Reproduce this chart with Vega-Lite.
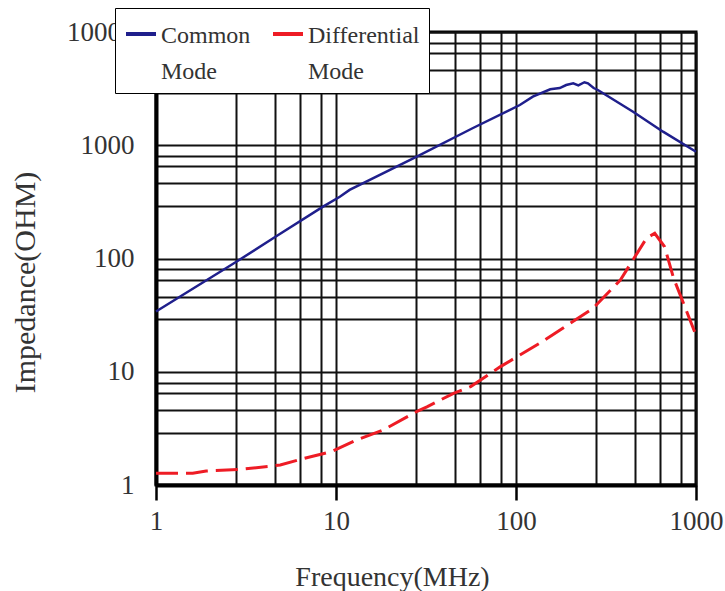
{
  "$schema": "https://vega.github.io/schema/vega-lite/v6.json",
  "width": 540,
  "height": 453,
  "autosize": "none",
  "padding": {"left": 156, "top": 32, "right": 29, "bottom": 106},
  "background": "white",
  "config": {
    "view": {"stroke": "black", "strokeWidth": 3},
    "font": "Liberation Serif"
  },
  "data": {
    "values": [
      {"f": 1, "z": 34, "series": "Common Mode"},
      {"f": 2.81, "z": 94, "series": "Common Mode"},
      {"f": 4.68, "z": 158, "series": "Common Mode"},
      {"f": 8.47, "z": 287, "series": "Common Mode"},
      {"f": 10.5, "z": 351, "series": "Common Mode"},
      {"f": 11.9, "z": 403, "series": "Common Mode"},
      {"f": 28.1, "z": 792, "series": "Common Mode"},
      {"f": 57.7, "z": 1420, "series": "Common Mode"},
      {"f": 105, "z": 2266, "series": "Common Mode"},
      {"f": 124, "z": 2683, "series": "Common Mode"},
      {"f": 155, "z": 3120, "series": "Common Mode"},
      {"f": 175, "z": 3200, "series": "Common Mode"},
      {"f": 190, "z": 3400, "series": "Common Mode"},
      {"f": 208, "z": 3520, "series": "Common Mode"},
      {"f": 222, "z": 3380, "series": "Common Mode"},
      {"f": 240, "z": 3600, "series": "Common Mode"},
      {"f": 251, "z": 3520, "series": "Common Mode"},
      {"f": 270, "z": 3200, "series": "Common Mode"},
      {"f": 285, "z": 3076, "series": "Common Mode"},
      {"f": 447, "z": 1977, "series": "Common Mode"},
      {"f": 656, "z": 1318, "series": "Common Mode"},
      {"f": 1000, "z": 877, "series": "Common Mode"},
      {"f": 1, "z": 1.27, "series": "Differential Mode"},
      {"f": 1.6, "z": 1.27, "series": "Differential Mode"},
      {"f": 1.9, "z": 1.33, "series": "Differential Mode"},
      {"f": 2.9, "z": 1.37, "series": "Differential Mode"},
      {"f": 4.9, "z": 1.5, "series": "Differential Mode"},
      {"f": 6.5, "z": 1.7, "series": "Differential Mode"},
      {"f": 9.5, "z": 1.98, "series": "Differential Mode"},
      {"f": 13, "z": 2.5, "series": "Differential Mode"},
      {"f": 18.3, "z": 3.06, "series": "Differential Mode"},
      {"f": 28, "z": 4.44, "series": "Differential Mode"},
      {"f": 32, "z": 4.9, "series": "Differential Mode"},
      {"f": 45, "z": 6.45, "series": "Differential Mode"},
      {"f": 56, "z": 7.4, "series": "Differential Mode"},
      {"f": 82, "z": 11.1, "series": "Differential Mode"},
      {"f": 135, "z": 17.8, "series": "Differential Mode"},
      {"f": 268, "z": 36.3, "series": "Differential Mode"},
      {"f": 380, "z": 64.6, "series": "Differential Mode"},
      {"f": 531, "z": 151, "series": "Differential Mode"},
      {"f": 590, "z": 167, "series": "Differential Mode"},
      {"f": 669, "z": 127, "series": "Differential Mode"},
      {"f": 751, "z": 67, "series": "Differential Mode"},
      {"f": 1000, "z": 21, "series": "Differential Mode"}
    ]
  },
  "encoding": {
    "x": {
      "field": "f",
      "type": "quantitative",
      "scale": {"type": "log", "domain": [1, 1000]},
      "axis": {
        "title": "Frequency(MHz)",
        "values": [1, 2.8, 4.6, 6.3, 8.3, 10, 28, 46, 63, 83, 100, 280, 460, 630, 830, 1000],
        "grid": true,
        "gridColor": "#111111",
        "gridWidth": 2,
        "gridOpacity": 1,
        "domainColor": "black",
        "domainWidth": 4,
        "tickColor": "black",
        "tickWidth": 2.5,
        "tickSize": 15,
        "tickOpacity": {"condition": {"test": "indexof([1,10,100,1000], datum.value) < 0", "value": 0}, "value": 1},
        "labelExpr": "indexof([1,10,100,1000], datum.value) >= 0 ? format(datum.value, 'd') : ''",
        "labelFont": "Liberation Serif",
        "labelFontSize": 27,
        "labelColor": "#333333",
        "labelPadding": 8,
        "labelFlush": false,
        "labelOverlap": false,
        "titleFont": "Liberation Serif",
        "titleFontSize": 28,
        "titleFontWeight": "normal",
        "titleColor": "#333333",
        "titleX": 236,
        "titleY": 92,
        "titleBaseline": "middle"
      }
    },
    "y": {
      "field": "z",
      "type": "quantitative",
      "scale": {"type": "log", "domain": [1, 10000]},
      "axis": {
        "title": "Impedance(OHM)",
        "values": [1, 2.9, 4.6, 6.5, 8, 10, 29, 46, 65, 80, 100, 290, 460, 650, 800, 1000, 2900, 4600, 6500, 8000, 10000],
        "grid": true,
        "gridColor": "#111111",
        "gridWidth": 2,
        "gridOpacity": 1,
        "domainColor": "black",
        "domainWidth": 4,
        "ticks": false,
        "labelExpr": "indexof([1,10,100,1000,10000], datum.value) >= 0 ? format(datum.value, 'd') : ''",
        "labelFont": "Liberation Serif",
        "labelFontSize": 27,
        "labelColor": "#333333",
        "labelPadding": 22,
        "labelFlush": false,
        "labelOverlap": false,
        "titleFont": "Liberation Serif",
        "titleFontSize": 30,
        "titleFontWeight": "normal",
        "titleColor": "#333333",
        "titleX": -131,
        "titleY": 250,
        "titleBaseline": "middle"
      }
    },
    "color": {
      "field": "series",
      "type": "nominal",
      "scale": {"domain": ["Common Mode", "Differential Mode"], "range": ["#1f1f8c", "#ee1c25"]},
      "legend": {
        "orient": "none",
        "legendX": -41,
        "legendY": -24,
        "direction": "horizontal",
        "columns": 2,
        "title": null,
        "fillColor": "white",
        "strokeColor": "black",
        "padding": 9,
        "symbolType": "stroke",
        "symbolSize": 900,
        "symbolStrokeWidth": 4,
        "labelFont": "Liberation Serif",
        "labelFontSize": 24,
        "labelColor": "#333333",
        "labelLimit": 0,
        "labelOffset": 3,
        "columnPadding": 14,
        "labelBaseline": "top",
        "labelExpr": "datum.label == 'Common Mode' ? ['Common', 'Mode'] : ['Differential', 'Mode']",
        "encode": {
          "labels": {
            "update": {
              "lineHeight": {"value": 36},
              "font": {"value": "Liberation Serif"},
              "fontSize": {"value": 24},
              "dy": {"value": -10}
            }
          }
        }
      }
    }
  },
  "layer": [
    {
      "transform": [{"filter": "datum.series == 'Common Mode'"}],
      "mark": {"type": "line", "strokeWidth": 2.5}
    },
    {
      "transform": [{"filter": "datum.series == 'Differential Mode'"}],
      "mark": {"type": "line", "strokeWidth": 3, "strokeDash": [22, 8]}
    }
  ]
}
